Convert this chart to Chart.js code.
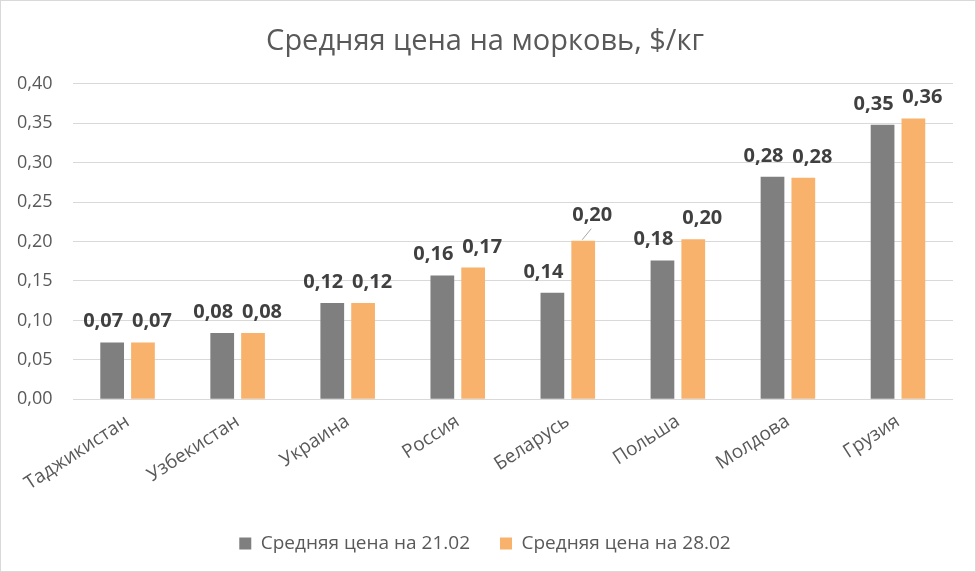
<!DOCTYPE html>
<html>
<head>
<meta charset="utf-8">
<script src="https://cdn.jsdelivr.net/npm/chart.js@4"></script>
<style>
  html, body { margin: 0; padding: 0; background: #fff; }
  #wrap { position: relative; width: 974px; height: 570px; border: 1px solid #d9d9d9; }
</style>
</head>
<body>
<div id="wrap"><canvas id="carrotChart"></canvas></div>
<script>
const countries = ['Таджикистан', 'Узбекистан', 'Украина', 'Россия', 'Беларусь', 'Польша', 'Молдова', 'Грузия'];
const price2102 = [0.072, 0.084, 0.122, 0.157, 0.135, 0.176, 0.282, 0.348];
const price2802 = [0.072, 0.084, 0.122, 0.167, 0.201, 0.203, 0.281, 0.356];
const seriesNames = ['Средняя цена на 21.02', 'Средняя цена на 28.02'];

const FONT = '"Open Sans", sans-serif';
const fmt = v => v.toFixed(2).replace('.', ',');

// draws value labels above bars (no datalabels plugin available)
const valueLabels = {
  id: 'valueLabels',
  afterDatasetsDraw(chart) {
    const ctx = chart.ctx;
    ctx.save();
    ctx.font = 'bold 20px ' + FONT;
    ctx.fillStyle = '#404040';
    ctx.textAlign = 'center';
    ctx.textBaseline = 'alphabetic';
    chart.data.datasets.forEach((ds, i) => {
      chart.getDatasetMeta(i).data.forEach((bar, j) => {
        let x = bar.x + (i === 0 ? -9 : 9), y = bar.y - 15;
        // Беларусь 28.02 label is lifted with a leader line
        if (i === 1 && j === 4) {
          ctx.strokeStyle = '#a6a6a6';
          ctx.lineWidth = 1;
          ctx.beginPath();
          ctx.moveTo(bar.x - 1, bar.y - 1);
          ctx.lineTo(bar.x + 8, bar.y - 12);
          ctx.stroke();
          y = bar.y - 20;
        }
        ctx.fillText(fmt(ds.data[j]), x, y);
      });
    });
    ctx.restore();
  }
};

new Chart(document.getElementById('carrotChart'), {
  type: 'bar',
  data: {
    labels: countries,
    datasets: [{
      label: seriesNames[0],
      data: price2102,
      backgroundColor: '#7f7f7f'
    }, {
      label: seriesNames[1],
      data: price2802,
      backgroundColor: '#f8b26c'
    }]
  },
  options: {
    responsive: true,
    maintainAspectRatio: false,
    animation: false,
    layout: { padding: { left: 16, right: 22, top: 0, bottom: 8 } },
    datasets: {
      bar: { categoryPercentage: 0.56, barPercentage: 0.77 }
    },
    plugins: {
      title: {
        display: true,
        text: 'Средняя цена на морковь, $/кг',
        color: '#595959',
        font: { family: FONT, size: 29, weight: 'normal' },
        padding: { top: 23, bottom: 25 }
      },
      legend: {
        position: 'bottom',
        labels: {
          color: '#595959',
          font: { family: FONT, size: 19 },
          boxWidth: 12,
          boxHeight: 12,
          padding: 30
        }
      },
      tooltip: { enabled: false }
    },
    scales: {
      x: {
        grid: { display: false },
        border: { display: false },
        ticks: {
          color: '#595959',
          font: { family: FONT, size: 19 },
          minRotation: 33,
          maxRotation: 33
        },
        afterFit(scale) {
          // first rotated label may hang into the left margin, like the original
          scale.paddingLeft = 0;
          scale.height += 6;
        }
      },
      y: {
        min: 0,
        max: 0.4,
        border: { display: false },
        grid: { color: '#d9d9d9', drawTicks: false },
        ticks: {
          stepSize: 0.05,
          padding: 20,
          color: '#595959',
          font: { family: FONT, size: 18 },
          callback: v => fmt(v)
        },
        afterFit(scale) {
          // chart.js reserves the tick padding twice; keep it once
          scale.width -= 20;
        }
      }
    }
  },
  plugins: [valueLabels]
});
</script>
</body>
</html>
